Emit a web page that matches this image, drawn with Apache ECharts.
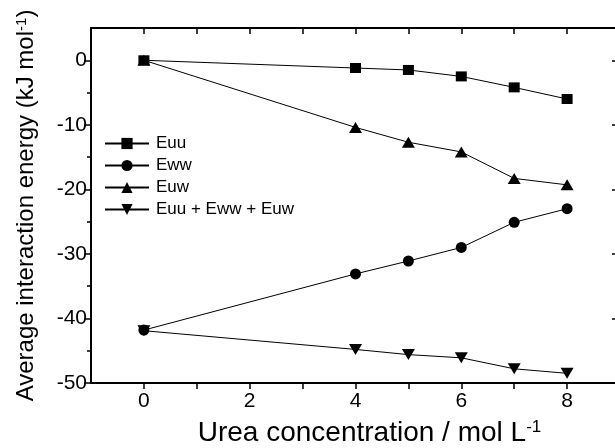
<!doctype html>
<html>
<head>
<meta charset="UTF-8">
<title>Average interaction energy</title>
<script src="https://cdn.jsdelivr.net/npm/echarts@6/dist/echarts.min.js"></script>
<style>
  html, body { margin: 0; padding: 0; background: #fff; }
  #chart { width: 615px; height: 448px; }
</style>
</head>
<body>
<div id="chart"></div>
<script>
// urea concentration (mol/L)
var conc = [0, 4, 5, 6, 7, 8];
// energies (kJ/mol)
var euu = [0, -1.2, -1.5, -2.5, -4.2, -6.0];
var eww = [-41.8, -33.1, -31.1, -29.0, -25.1, -23.0];
var euw = [0, -10.4, -12.7, -14.2, -18.3, -19.3];
var total = [-41.9, -44.8, -45.6, -46.1, -47.8, -48.5];

var xTicks = [0, 1, 2, 3, 4, 5, 6, 7, 8];
var xLabels = [0, 2, 4, 6, 8];
var yMajor = [-50, -40, -30, -20, -10, 0];
var yMinor = [-45, -35, -25, -15, -5];

var font = 'Liberation Sans, Arial, sans-serif';
var downTri = 'path://M0,0 L10,0 L5,9 Z';

function pairs(ys) {
  return conc.map(function(x, i) { return [x, ys[i]]; });
}

function makeSeries(name, ys, symbol, size) {
  return {
    name: name,
    type: 'line',
    data: pairs(ys),
    symbol: symbol,
    symbolSize: size,
    showAllSymbol: true,
    lineStyle: { color: '#000', width: 1 },
    itemStyle: { color: '#000' },
    emphasis: { disabled: true },
    animation: false
  };
}

var line = { show: true, onZero: false, lineStyle: { color: '#000', width: 2 } };

var chart = echarts.init(document.getElementById('chart'));
chart.setOption({
  animation: false,
  grid: { left: 91, top: 28, width: 529, height: 355, outerBoundsMode: 'none', containLabel: false },
  legend: {
    data: ['Euu', 'Eww', 'Euw', 'Euu + Eww + Euw'],
    orient: 'vertical',
    left: 104,
    top: 135,
    padding: 0,
    itemWidth: 44,
    itemHeight: 14,
    itemGap: 5,
    textStyle: { fontFamily: font, fontSize: 17, color: '#000', padding: [0, 0, 0, 2] }
  },
  xAxis: [{
    type: 'value',
    min: -1,
    max: 9,
    position: 'bottom',
    name: 'Urea concentration / mol L{sup|-1}',
    nameLocation: 'middle',
    nameGap: 36,
    nameTextStyle: {
      fontFamily: font, fontSize: 28, color: '#000', padding: [0, 0, 0, 28],
      rich: { sup: { fontFamily: font, fontSize: 17, verticalAlign: 'top', lineHeight: 15, color: '#000' } }
    },
    axisLine: line,
    axisTick: { show: true, inside: false, length: 6, customValues: xTicks, lineStyle: { color: '#000', width: 1.5 } },
    axisLabel: { customValues: xLabels, fontFamily: font, fontSize: 21, color: '#000', margin: 8 },
    splitLine: { show: false }
  }, {
    type: 'value',
    min: -1,
    max: 9,
    position: 'top',
    axisLine: line,
    axisTick: { show: true, inside: true, length: 6, customValues: xTicks, lineStyle: { color: '#000', width: 1.5 } },
    axisLabel: { show: false },
    splitLine: { show: false }
  }],
  yAxis: [{
    type: 'value',
    min: -50,
    max: 5,
    position: 'left',
    name: 'Average interaction energy (kJ mol{sup|-1})',
    nameLocation: 'middle',
    nameGap: 53,
    nameTextStyle: {
      fontFamily: font, fontSize: 24, color: '#000',
      rich: { sup: { fontFamily: font, fontSize: 15, verticalAlign: 'top', lineHeight: 13, color: '#000' } }
    },
    axisLine: line,
    axisTick: { show: true, inside: false, length: 7, customValues: yMajor, lineStyle: { color: '#000', width: 1.5 } },
    axisLabel: { customValues: yMajor, fontFamily: font, fontSize: 21, color: '#000', margin: 4 },
    splitLine: { show: false }
  }, {
    type: 'value',
    min: -50,
    max: 5,
    position: 'left',
    axisLine: { show: false, onZero: false },
    axisTick: { show: true, inside: false, length: 4, customValues: yMinor, lineStyle: { color: '#000', width: 1.5 } },
    axisLabel: { show: false },
    splitLine: { show: false }
  }, {
    type: 'value',
    min: -50,
    max: 5,
    position: 'right',
    axisLine: line,
    axisTick: { show: true, inside: true, length: 8, customValues: yMajor, lineStyle: { color: '#000', width: 1.5 } },
    axisLabel: { show: false },
    splitLine: { show: false }
  }],
  series: [
    makeSeries('Euu + Eww + Euw', total, downTri, [13, 11]),
    makeSeries('Euw', euw, 'triangle', [13, 11]),
    makeSeries('Eww', eww, 'circle', 11),
    makeSeries('Euu', euu, 'rect', [11, 10])
  ]
});
</script>
</body>
</html>
